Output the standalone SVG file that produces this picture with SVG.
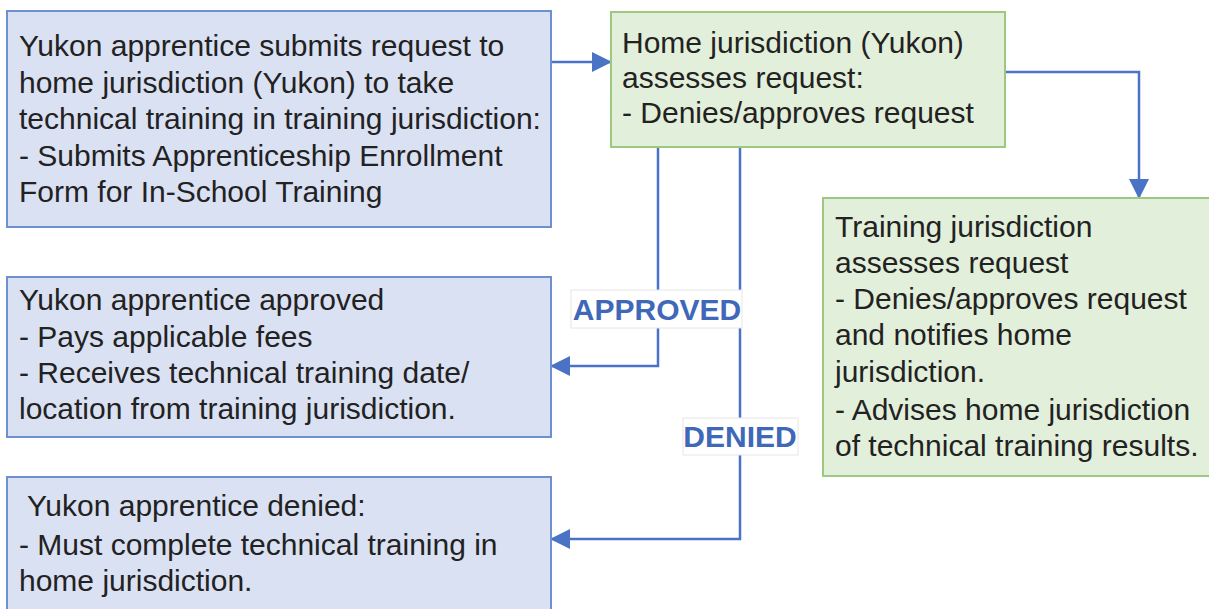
<svg xmlns="http://www.w3.org/2000/svg" width="1209" height="609" viewBox="0 0 1209 609">
<defs>
<style>
.blue{fill:#dae1f3;stroke:#6e8fd0;stroke-width:2}
.green{fill:#e2efda;stroke:#9cc97f;stroke-width:2}
.t{font-family:"Liberation Sans",Arial,sans-serif;font-size:30px;fill:#222}
.c{fill:none;stroke:#4a73c6;stroke-width:2.5}
.lbl{font-family:"Liberation Sans",Arial,sans-serif;font-size:30px;font-weight:bold;fill:#4068b8;text-anchor:middle}
.lb{fill:#fff;stroke:#e6e6e6;stroke-width:1}
</style>
<marker id="a" viewBox="0 0 10 10" refX="9" refY="5" markerWidth="8" markerHeight="8" orient="auto">
<path d="M0,0 L10,5 L0,10 z" fill="#4a73c6"/>
</marker>
</defs>
<rect width="1209" height="609" fill="#fff"/>
<g id="connectors">
<path class="c" d="M551,62 H610" marker-end="url(#a)"/>
<path class="c" d="M1005,72 H1139 V197" marker-end="url(#a)"/>
<path class="c" d="M658,147 V366 H552" marker-end="url(#a)"/>
<path class="c" d="M740,147 V539 H552" marker-end="url(#a)"/>
<rect class="lb" x="571" y="290" width="171" height="38"/>
<text class="lbl" x="657" y="320">APPROVED</text>
<rect class="lb" x="683" y="418" width="115" height="37"/>
<text class="lbl" x="740" y="447">DENIED</text>
</g>
<g id="n1">
<rect class="blue" x="7" y="11" width="544" height="216"/>
<text class="t"><tspan x="19" y="56">Yukon apprentice submits request to</tspan><tspan x="19" y="93">home jurisdiction (Yukon) to take</tspan><tspan x="19" y="129">technical training in training jurisdiction:</tspan><tspan x="19" y="166">- Submits Apprenticeship Enrollment</tspan><tspan x="19" y="202">Form for In-School Training</tspan></text>
</g>
<g id="n2">
<rect class="green" x="611" y="12" width="394" height="135"/>
<text class="t"><tspan x="622" y="53">Home jurisdiction (Yukon)</tspan><tspan x="622" y="88">assesses request:</tspan><tspan x="622" y="123">- Denies/approves request</tspan></text>
</g>
<g id="n3">
<rect class="green" x="823" y="198" width="390" height="278"/>
<text class="t"><tspan x="835" y="237">Training jurisdiction</tspan><tspan x="835" y="273">assesses request</tspan><tspan x="835" y="309">- Denies/approves request</tspan><tspan x="835" y="345">and notifies home</tspan><tspan x="835" y="382">jurisdiction.</tspan><tspan x="835" y="420">- Advises home jurisdiction</tspan><tspan x="835" y="456">of technical training results.</tspan></text>
</g>
<g id="n4">
<rect class="blue" x="7" y="277" width="544" height="160"/>
<text class="t"><tspan x="19" y="310">Yukon apprentice approved</tspan><tspan x="19" y="347">- Pays applicable fees</tspan><tspan x="19" y="383">- Receives technical training date/</tspan><tspan x="19" y="419">location from training jurisdiction.</tspan></text>
</g>
<g id="n5">
<rect class="blue" x="7" y="477" width="544" height="140"/>
<text class="t"><tspan x="27" y="516">Yukon apprentice denied:</tspan><tspan x="19" y="555">- Must complete technical training in</tspan><tspan x="19" y="591">home jurisdiction.</tspan></text>
</g>
</svg>
